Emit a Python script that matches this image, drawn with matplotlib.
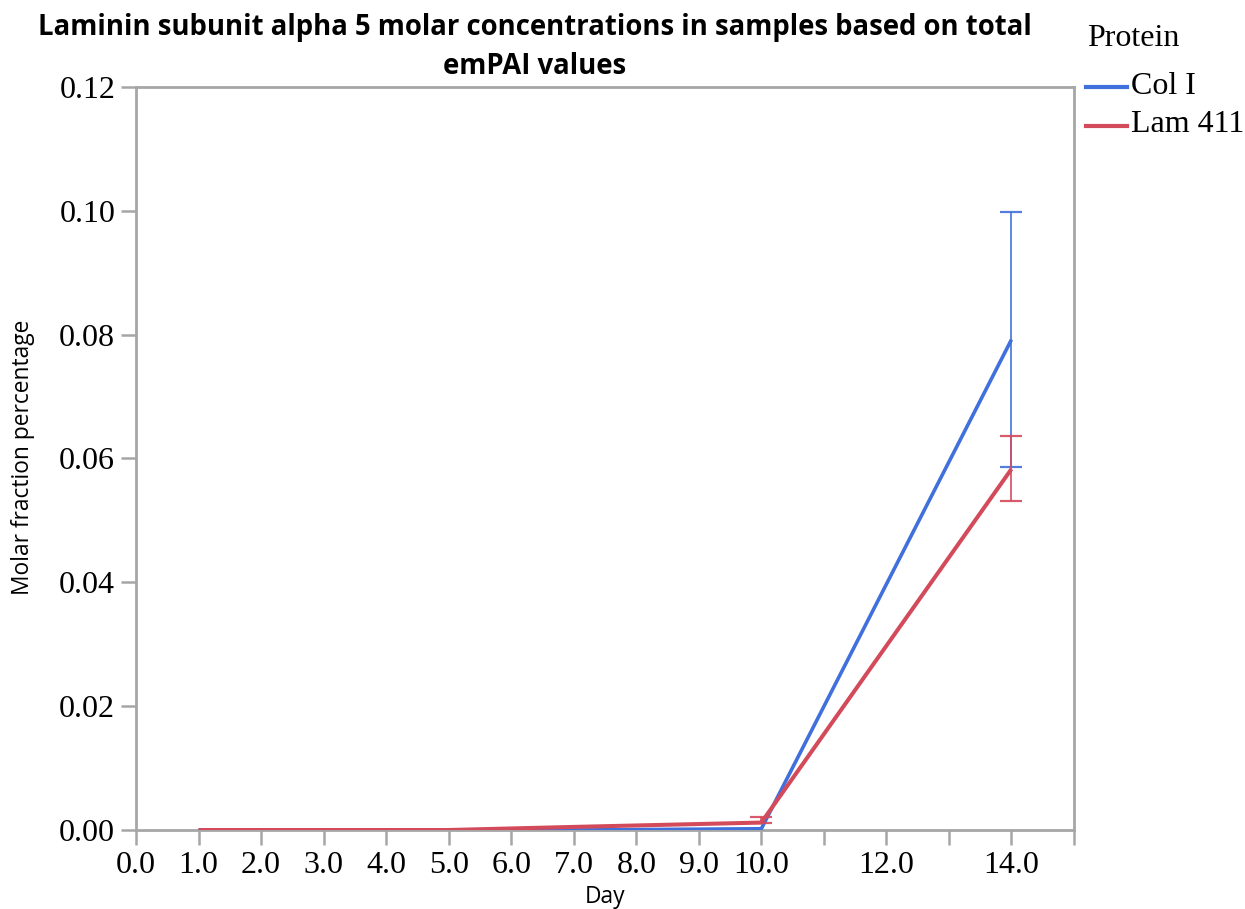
import matplotlib
matplotlib.use("Agg")
import matplotlib.pyplot as plt
import numpy as np

days = [1, 3, 5, 7, 10, 14]
col_i = [0.0, 0.0, 0.0, 0.0, 0.0002, 0.0792]
col_i_err = [0.0, 0.0, 0.0, 0.0, 0.0, 0.0206]
lam_411 = [0.0, 0.0, 0.0, 0.0005, 0.0012, 0.0583]
lam_411_err_low = [0.0, 0.0, 0.0, 0.0, 0.0, 0.0051]
lam_411_err_high = [0.0, 0.0, 0.0, 0.0, 0.0009, 0.0054]

x_ticks = list(range(0, 16))
x_labels = ["0.0", "1.0", "2.0", "3.0", "4.0", "5.0", "6.0", "7.0", "8.0", "9.0", "10.0", "", "12.0", "", "14.0", ""]
y_ticks = [0.0, 0.02, 0.04, 0.06, 0.08, 0.10, 0.12]
y_labels = ["0.00", "0.02", "0.04", "0.06", "0.08", "0.10", "0.12"]

BLUE = "#4070DC"
RED = "#D34A5B"
GRAY = "#A6A6A6"
SERIF = ["Liberation Serif", "DejaVu Serif"]
SANS = ["Open Sans", "DejaVu Sans"]
TS = 23

fig = plt.figure(figsize=(12.45, 9.09), dpi=100)
ax = fig.add_axes([136/1245, 1-830/909, (1074-136)/1245, (830-87)/909])

def draw(vals, lo, hi, color, z, lw):
    ax.plot(days, vals, color=color, lw=lw, zorder=z, solid_capstyle="butt")
    m = [i for i in range(len(days)) if lo[i] > 0 or hi[i] > 0]
    ax.errorbar([days[i] for i in m], [vals[i] for i in m],
                yerr=[[lo[i] for i in m], [hi[i] for i in m]],
                fmt="none", ecolor=color, elinewidth=1.3, capsize=8, capthick=1.6, zorder=z, alpha=0.9)

draw(col_i, col_i_err, col_i_err, BLUE, 3, 2.6)
draw(lam_411, lam_411_err_low, lam_411_err_high, RED, 4, 2.9)

ax.set_xlim(0, 15)
ax.set_ylim(0, 0.12)
ax.set_xticks(x_ticks)
ax.set_xticklabels(x_labels, fontfamily=SERIF, fontsize=TS)
ax.set_yticks(y_ticks)
ax.set_yticklabels(y_labels, fontfamily=SERIF, fontsize=TS)
ax.tick_params(axis="both", length=11, width=1.8, color=GRAY, pad=4)
for s in ax.spines.values():
    s.set_color(GRAY)
    s.set_linewidth(2)

fig.text(605/1245, 1-897/909, "Day", ha="center", va="center", fontfamily=SANS, fontsize=16.4)
fig.text(23/1245, 1-457/909, "Molar fraction percentage", ha="center", va="center",
         rotation=90, fontfamily=SANS, fontsize=16.4)

fig.text(535/1245, 1-27/909, "Laminin subunit alpha 5 molar concentrations in samples based on total",
         ha="center", va="center", fontfamily=SANS, fontweight="bold", fontsize=19.8)
fig.text(535/1245, 1-66/909, "emPAI values",
         ha="center", va="center", fontfamily=SANS, fontweight="bold", fontsize=19.8)

# legend
fig.text(1087/1245, 1-38/909, "Protein", ha="left", va="center", fontfamily=SERIF, fontsize=TS)
for yy, lab, c in [(87, "Col I", BLUE), (126, "Lam 411", RED)]:
    fig.add_artist(plt.Line2D([1086/1245, 1127/1245], [1-yy/909, 1-yy/909], color=c, lw=3,
                              transform=fig.transFigure))
    fig.text(1131/1245, 1-(yy-1)/909, lab, ha="left", va="center", fontfamily=SERIF, fontsize=TS)

fig.savefig("out.png", dpi=100)
